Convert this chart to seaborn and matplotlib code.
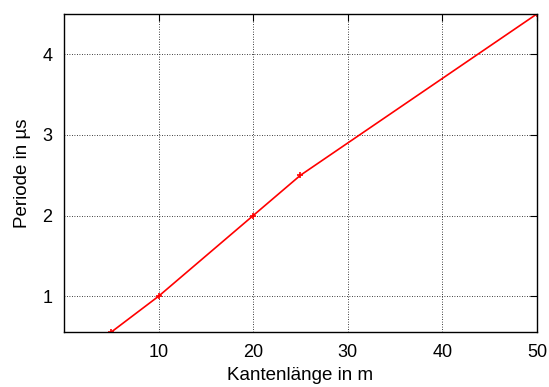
import numpy as np
import pandas as pd
import matplotlib
matplotlib.use('Agg')
import matplotlib.pyplot as plt
import seaborn as sns

# data
kantenlaenge = [5, 10, 20, 25, 50]
periode = [0.556, 1.0, 2.0, 2.5, 4.5]
x_ticks = [10, 20, 30, 40, 50]
y_ticks = [1, 2, 3, 4]

df = pd.DataFrame({'x': kantenlaenge, 'y': periode})

sns.set_style('white')
plt.rcParams['font.family'] = ['Liberation Sans', 'DejaVu Sans']

fig = plt.figure(figsize=(5.49, 3.87), dpi=100)
ax = fig.add_axes([0.1166, 0.142, 0.978 - 0.1166, 0.964 - 0.142])

sns.lineplot(data=df, x='x', y='y', ax=ax, color='#ff0000', linewidth=1.2,
             marker='+', markersize=5, markeredgewidth=1.2, markeredgecolor='#ff0000')

ax.set_xlim(0, 50)
ax.set_ylim(0.556, 4.5)
ax.set_xticks(x_ticks)
ax.set_yticks(y_ticks)
ax.grid(True, color='black', linestyle=(0, (1, 2)), linewidth=0.6)
ax.tick_params(direction='in', top=True, right=True, length=5, width=0.8,
               labelsize=13, colors='black')
ax.tick_params(axis='x', pad=8.5)
ax.tick_params(axis='y', pad=8.5)
for s in ax.spines.values():
    s.set_color('black')
    s.set_linewidth(1.0)

ax.set_xlabel('Kantenlänge in m', fontsize=13.5, labelpad=4.5, color='black')
ax.set_ylabel('Periode in µs', fontsize=13.5, labelpad=8, color='black')

fig.savefig('out.png', dpi=100)
